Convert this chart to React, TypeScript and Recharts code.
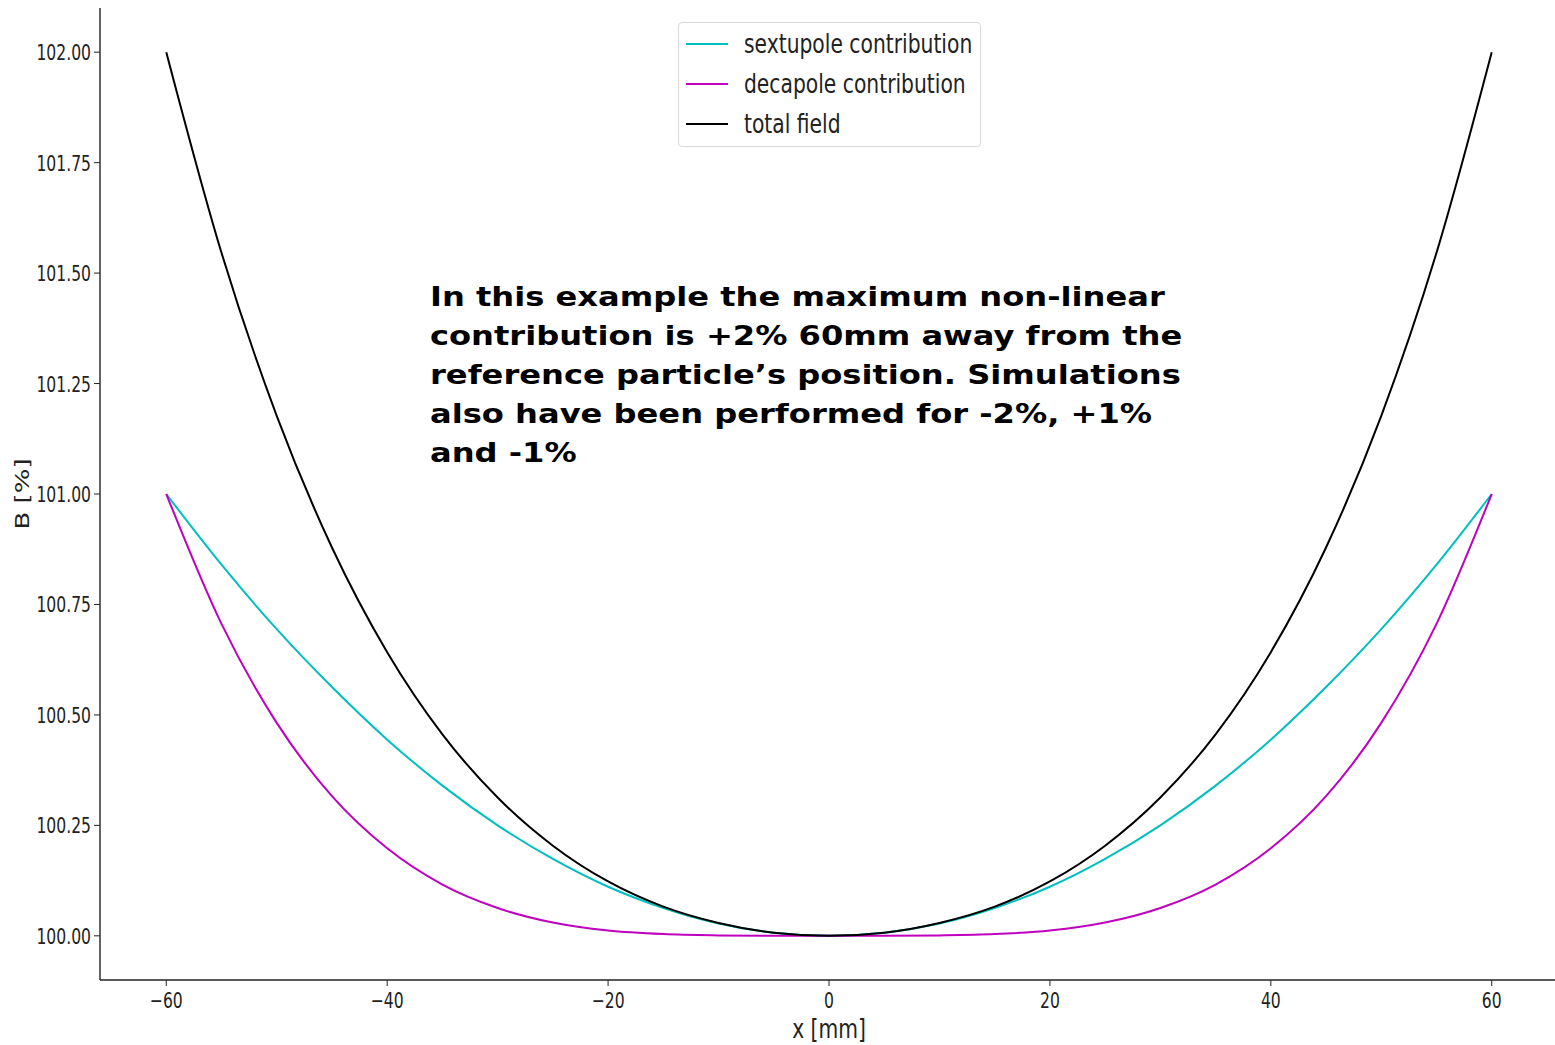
import { LineChart, Line, XAxis, YAxis, Legend, Label } from 'recharts';

// field profile across the aperture
const xPositions = [-60, -55, -50, -45, -40, -35, -30, -25, -20, -15, -10, -5, 0, 5, 10, 15, 20, 25, 30, 35, 40, 45, 50, 55, 60];
const sextupole = [101.0, 100.84, 100.694, 100.563, 100.444, 100.34, 100.25, 100.174, 100.111, 100.063, 100.028, 100.007, 100.0, 100.007, 100.028, 100.063, 100.111, 100.174, 100.25, 100.34, 100.444, 100.563, 100.694, 100.84, 101.0];
const decapole = [101.0, 100.706, 100.482, 100.316, 100.198, 100.116, 100.063, 100.03, 100.012, 100.004, 100.001, 100.0, 100.0, 100.0, 100.001, 100.004, 100.012, 100.03, 100.063, 100.116, 100.198, 100.316, 100.482, 100.706, 101.0];
const totalField = [102.0, 101.546, 101.177, 100.879, 100.642, 100.456, 100.313, 100.204, 100.123, 100.066, 100.029, 100.007, 100.0, 100.007, 100.029, 100.066, 100.123, 100.204, 100.313, 100.456, 100.642, 100.879, 101.177, 101.546, 102.0];

const xTicks = [-60, -40, -20, 0, 20, 40, 60];
const yTicks = [100, 100.25, 100.5, 100.75, 101, 101.25, 101.5, 101.75, 102];

const seriesNames = ['sextupole contribution', 'decapole contribution', 'total field'];
const seriesColors = ['#00bfbf', '#bf00bf', '#000000'];

const noteLines = [
  'In this example the maximum non-linear',
  'contribution is +2% 60mm away from the',
  'reference particle\u2019s position. Simulations',
  'also have been performed for -2%, +1%',
  'and -1%',
];

const data = xPositions.map((x, i) => ({
  x,
  sextupole: sextupole[i],
  decapole: decapole[i],
  total: totalField[i],
}));

// the original figure is squeezed horizontally
const SQUEEZE = 0.78;
const TICK_SQUEEZE = 0.71;
const FONT = '"DejaVu Sans", sans-serif';
const INK = '#222';

const fmtX = (v: number) => (v < 0 ? '\u2212' + Math.abs(v) : String(v));

const XTick = ({ x, y, payload }: any) => (
  <g transform={`translate(${x},${y}) scale(${TICK_SQUEEZE},1)`}>
    <text x={0} y={0} dy={20} textAnchor="middle" fontSize={22} fontFamily={FONT} fill={INK}>
      {fmtX(payload.value)}
    </text>
  </g>
);

// labels end a few px left of the tick marks
const YTick = ({ y, payload }: any) => (
  <g transform={`translate(91,${y}) scale(${TICK_SQUEEZE},1)`}>
    <text x={0} y={0} dy={8} textAnchor="end" fontSize={22} fontFamily={FONT} fill={INK}>
      {payload.value.toFixed(2)}
    </text>
  </g>
);

const XLabel = ({ viewBox }: any) => (
  <g transform={`translate(${viewBox.x + viewBox.width / 2},1038) scale(${SQUEEZE},1)`}>
    <text x={0} y={0} textAnchor="middle" fontSize={26} fontFamily={FONT} fill={INK}>
      x [mm]
    </text>
  </g>
);

const YLabel = ({ viewBox }: any) => (
  <g transform={`translate(29,${viewBox.y + viewBox.height / 2}) scale(${SQUEEZE},1) rotate(-90)`}>
    <text x={0} y={0} textAnchor="middle" fontSize={26} fontFamily={FONT} fill={INK}>
      B [%]
    </text>
  </g>
);

const LegendBox = () => (
  <div
    style={{
      width: 303,
      height: 125,
      border: '1px solid #d8d8d8',
      borderRadius: 4,
      background: 'rgba(255,255,255,0.8)',
      boxSizing: 'border-box',
      paddingTop: 1,
      overflow: 'hidden',
    }}
  >
    {seriesNames.map((name, i) => (
      <div key={name} style={{ display: 'flex', alignItems: 'center', height: 40 }}>
        <div style={{ marginLeft: 7, width: 42, height: 2, flexShrink: 0, background: seriesColors[i] }} />
        <span
          style={{
            marginLeft: 16,
            flexShrink: 0,
            fontFamily: FONT,
            fontSize: 26,
            color: INK,
            whiteSpace: 'nowrap',
            display: 'inline-block',
            transform: `scaleX(${SQUEEZE})`,
            transformOrigin: 'left center',
          }}
        >
          {name}
        </span>
      </div>
    ))}
  </div>
);

export default function App() {
  return (
    <div
      style={{
        position: 'absolute',
        left: 0,
        top: 0,
        width: 1555,
        height: 1045,
        overflow: 'hidden',
        background: '#fff',
      }}
    >
      <LineChart width={1560} height={1045} data={data} margin={{ top: 8, right: 2, bottom: 0, left: 0 }}>
        <XAxis
          xAxisId="top"
          orientation="top"
          dataKey="x"
          type="number"
          domain={[-66, 66]}
          allowDataOverflow
          tick={false}
          tickLine={false}
          height={0}
          axisLine={{ stroke: INK, strokeWidth: 1.4 }}
        />
        <XAxis
          dataKey="x"
          type="number"
          domain={[-66, 66]}
          allowDataOverflow
          ticks={xTicks}
          tick={<XTick />}
          tickSize={6}
          tickLine={{ stroke: INK }}
          axisLine={{ stroke: INK, strokeWidth: 1.4 }}
          height={65}
        >
          <Label content={<XLabel />} />
        </XAxis>
        <YAxis
          type="number"
          domain={[99.9, 102.1]}
          allowDataOverflow
          ticks={yTicks}
          tick={<YTick />}
          tickSize={6}
          tickLine={{ stroke: INK }}
          axisLine={{ stroke: INK, strokeWidth: 1.4 }}
          width={100}
        >
          <Label content={<YLabel />} />
        </YAxis>
        <Legend
          layout="horizontal"
          verticalAlign="middle"
          align="center"
          content={<LegendBox />}
          wrapperStyle={{ position: 'absolute', left: 678, top: 22, width: 303, height: 125 }}
        />
        <Line
          dataKey="sextupole"
          name={seriesNames[0]}
          type="monotone"
          stroke={seriesColors[0]}
          strokeWidth={2}
          dot={false}
          isAnimationActive={false}
        />
        <Line
          dataKey="decapole"
          name={seriesNames[1]}
          type="monotone"
          stroke={seriesColors[1]}
          strokeWidth={2}
          dot={false}
          isAnimationActive={false}
        />
        <Line
          dataKey="total"
          name={seriesNames[2]}
          type="monotone"
          stroke={seriesColors[2]}
          strokeWidth={2}
          dot={false}
          isAnimationActive={false}
        />
      </LineChart>
      <div
        style={{
          position: 'absolute',
          left: 430,
          top: 277,
          fontFamily: '"DejaVu Sans", sans-serif',
          fontWeight: 'bold',
          fontSize: 27,
          lineHeight: '39px',
          color: '#000',
          whiteSpace: 'nowrap',
          transform: 'scaleX(1.19)',
          transformOrigin: 'left top',
        }}
      >
        {noteLines.map((line) => (
          <div key={line}>{line}</div>
        ))}
      </div>
    </div>
  );
}
